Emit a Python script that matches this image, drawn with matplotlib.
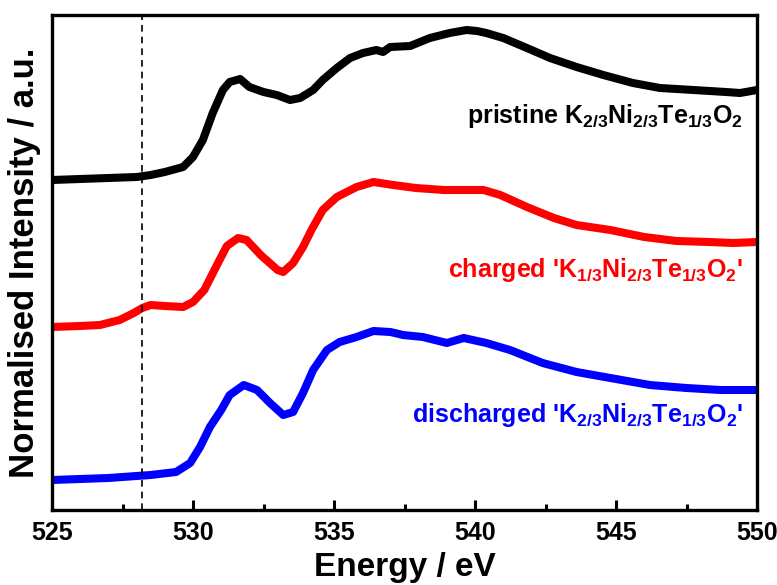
import matplotlib
matplotlib.use("Agg")
import matplotlib.pyplot as plt

plt.rcParams['font.family'] = ['Liberation Sans', 'DejaVu Sans']
plt.rcParams['font.weight'] = 'bold'
plt.rcParams['mathtext.fontset'] = 'custom'
plt.rcParams['mathtext.rm'] = 'Liberation Sans:bold'
plt.rcParams['mathtext.bf'] = 'Liberation Sans:bold'
plt.rcParams['mathtext.it'] = 'Liberation Sans:bold'

# ---- data (energy in eV, normalised intensity in a.u., curves offset) ----
energy_pristine = [525, 526, 527, 528, 528.5, 529.0, 529.65, 530.0, 530.35, 530.7,
                   531.06, 531.3, 531.67, 532.0, 532.5, 532.97, 533.44, 533.8, 534.26,
                   534.6, 535.1, 535.57, 536.03, 536.5, 536.74, 536.99, 537.7, 538.4,
                   539.1, 539.7, 540.07, 540.4, 541.0, 541.84, 542.66, 543.6, 544.55,
                   545.6, 546.56, 547.74, 548.9, 549.4, 550]
intensity_pristine = [3.30, 3.31, 3.32, 3.33, 3.35, 3.38, 3.43, 3.53, 3.70, 3.97,
                      4.20, 4.28, 4.31, 4.23, 4.18, 4.15, 4.10, 4.12, 4.20,
                      4.30, 4.42, 4.52, 4.57, 4.60, 4.58, 4.63, 4.64, 4.72,
                      4.77, 4.80, 4.79, 4.77, 4.72, 4.62, 4.52, 4.43, 4.35,
                      4.27, 4.22, 4.20, 4.18, 4.17, 4.20]

energy_charged = [525, 526, 526.7, 527.4, 527.9, 528.2, 528.5, 529.0, 529.65, 530.0,
                  530.4, 530.85, 531.2, 531.6, 531.9, 532.4, 533.0, 533.2, 533.55,
                  533.9, 534.2, 534.6, 535.1, 535.8, 536.4, 537.1, 537.9, 538.9,
                  539.7, 540.3, 540.9, 541.84, 542.8, 543.6, 544.8, 546.0, 547.15,
                  548.3, 549.15, 550]
intensity_charged = [1.83, 1.84, 1.85, 1.90, 1.97, 2.02, 2.05, 2.04, 2.03, 2.08,
                     2.20, 2.45, 2.64, 2.72, 2.70, 2.55, 2.40, 2.38, 2.47,
                     2.63, 2.80, 3.00, 3.13, 3.23, 3.28, 3.25, 3.22, 3.20,
                     3.20, 3.20, 3.15, 3.03, 2.92, 2.85, 2.80, 2.73, 2.69,
                     2.68, 2.67, 2.68]

energy_discharged = [525, 526, 527, 528.5, 529.4, 529.9, 530.25, 530.6, 531.0, 531.3,
                     531.8, 532.27, 532.73, 533.2, 533.55, 533.9, 534.26, 534.75,
                     535.2, 535.8, 536.4, 537.0, 537.45, 538.15, 539.0, 539.6, 540.4,
                     541.24, 542.4, 543.6, 544.8, 546.2, 547.5, 548.7, 550]
intensity_discharged = [0.30, 0.31, 0.32, 0.35, 0.38, 0.47, 0.63, 0.83, 1.00, 1.15,
                        1.25, 1.20, 1.07, 0.95, 0.98, 1.17, 1.40, 1.60,
                        1.68, 1.73, 1.79, 1.78, 1.75, 1.73, 1.67, 1.72, 1.67,
                        1.60, 1.47, 1.38, 1.32, 1.25, 1.22, 1.20, 1.20]

dashed_energy = 528.2
xticks = [525, 530, 535, 540, 545, 550]

labels = [
    r"pristine K$_{\mathbf{2/3}}$Ni$_{\mathbf{2/3}}$Te$_{\mathbf{1/3}}$O$_{\mathbf{2}}$",
    r"charged 'K$_{\mathbf{1/3}}$Ni$_{\mathbf{2/3}}$Te$_{\mathbf{1/3}}$O$_{\mathbf{2}}$'",
    r"discharged 'K$_{\mathbf{2/3}}$Ni$_{\mathbf{2/3}}$Te$_{\mathbf{1/3}}$O$_{\mathbf{2}}$'",
]
label_y = [3.87, 2.33, 0.88]
colors = ['black', '#ff0000', '#0000ff']

fig = plt.figure(figsize=(7.77, 5.85), dpi=100)
ax = fig.add_axes([52/777, 75/585, 705/777, 495/585])

series = [(energy_pristine, intensity_pristine),
          (energy_charged, intensity_charged),
          (energy_discharged, intensity_discharged)]
for (e, i), c in zip(series, colors):
    ax.plot(e, i, color=c, lw=5.8, solid_joinstyle='round', solid_capstyle='butt')

ax.axvline(dashed_energy, color='black', lw=1.2, linestyle=(0, (4, 3)))

for txt, y, c in zip(labels, label_y, colors):
    ax.text(549.5, y, txt, color=c, fontsize=18, fontweight='bold',
            ha='right', va='baseline')

ax.set_xlim(525, 550)
ax.set_ylim(0, 4.95)
ax.set_xticks(xticks)
ax.set_xticks([527.5, 532.5, 537.5, 542.5, 547.5], minor=True)
ax.set_yticks([])
ax.tick_params(axis='x', which='major', direction='in', length=7, width=2.2,
               labelsize=18, pad=8)
ax.tick_params(axis='x', which='minor', direction='in', length=4, width=2.2)
for lab in ax.get_xticklabels():
    lab.set_fontweight('bold')
for s in ax.spines.values():
    s.set_linewidth(2.4)

ax.set_xlabel("Energy / eV", fontsize=24, fontweight='bold', labelpad=5)
ax.set_ylabel("Normalised Intensity / a.u.", fontsize=25, fontweight='bold', labelpad=8)

fig.savefig("out.png", dpi=100)
